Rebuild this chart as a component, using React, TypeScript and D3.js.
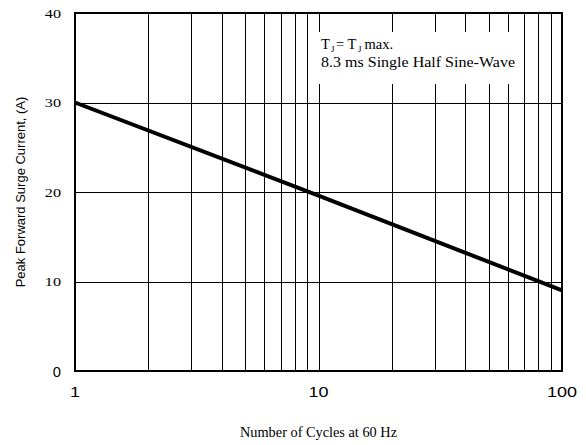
import React from "react";
import * as d3 from "d3";

const cyclesX = [1, 10, 100];
const surgeY = [30, 19.6, 9];
const yTicksSerif = [40, 30, 20, 10];
const yTickSans = [0];
const xTickLabels = [1, 10, 100];
const xGrid = [2, 3, 4, 5, 6, 7, 8, 9, 10, 20, 30, 40, 50, 60, 70, 80, 90];
const yGrid = [10, 20, 30];

const W = 586, H = 445;
const L = 75, R = 562, T = 13, B = 371;

const serif = "'Liberation Serif', 'Times New Roman', serif";
const sans = "'Liberation Sans', Arial, sans-serif";

function SText(props: { x: number; y: number; sx: number; anchor?: string; family: string; size: number; children: React.ReactNode; dy?: string }) {
  const { x, y, sx, anchor, family, size, children, dy } = props;
  return (
    <text transform={`translate(${x},${y}) scale(${sx},1)`} textAnchor={anchor || "start"} fontFamily={family} fontSize={size} dy={dy}>
      {children}
    </text>
  );
}

export default function App() {
  const x = d3.scaleLog().domain([1, 100]).range([L, R]);
  const y = d3.scaleLinear().domain([0, 40]).range([B, T]);
  const pts: [number, number][] = cyclesX.map((c, i) => [c, surgeY[i]]);
  const line = d3.line<[number, number]>().x(d => x(d[0])).y(d => y(d[1]));
  return (
    <svg width={W} height={H} style={{ position: "absolute", left: 0, top: 0, background: "#fff" }}>
      <rect x={0} y={0} width={W} height={H} fill="#fff" />
      {xGrid.map(v => (
        <line key={"xg" + v} x1={Math.round(x(v)) + 0.5} x2={Math.round(x(v)) + 0.5} y1={T} y2={B} stroke="#000" strokeWidth={1} />
      ))}
      {yGrid.map(v => (
        <line key={"yg" + v} x1={L} x2={R} y1={Math.round(y(v)) + 0.5} y2={Math.round(y(v)) + 0.5} stroke="#000" strokeWidth={1} />
      ))}
      <rect x={311} y={32} width={204} height={52} fill="#fff" />
      <text x={321} y={49} fontFamily={serif} fontSize={14.5}>T</text>
      <text x={331} y={51.5} fontFamily={serif} fontSize={9}>J</text>
      <text x={336} y={49} fontFamily={serif} fontSize={14.5}>= T</text>
      <text x={358} y={51.5} fontFamily={serif} fontSize={9}>J</text>
      <text x={364.5} y={49} fontFamily={serif} fontSize={14.5}>max.</text>
      <text x={321} y={67} fontFamily={serif} fontSize={14.5} textLength={194} lengthAdjust="spacingAndGlyphs">8.3 ms Single Half Sine-Wave</text>
      <path d={line(pts) || ""} fill="none" stroke="#000" strokeWidth={4} />
      <rect x={L} y={T} width={R - L} height={B - T} fill="none" stroke="#000" strokeWidth={2} />
      {yTicksSerif.map(v => (
        <SText key={"yt" + v} x={61} y={y(v)} dy="0.35em" anchor="end" family={serif} size={13.5} sx={1.2}>{v}</SText>
      ))}
      {yTickSans.map(v => (
        <SText key={"ys" + v} x={61} y={y(v) + 1} dy="0.35em" anchor="end" family={sans} size={14} sx={1.05}>{v}</SText>
      ))}
      {xTickLabels.map(v => (
        <SText key={"xt" + v} x={x(v)} y={397} anchor="middle" family={sans} size={15} sx={1.2}>{v}</SText>
      ))}
      <text transform={`translate(25,${(T + B) / 2}) rotate(-90)`} textAnchor="middle" fontFamily={sans} fontSize={13}>Peak Forward Surge Current, (A)</text>
      <text x={240} y={437} fontFamily={serif} fontSize={14} textLength={157} lengthAdjust="spacingAndGlyphs">Number of Cycles at 60 Hz</text>
    </svg>
  );
}
